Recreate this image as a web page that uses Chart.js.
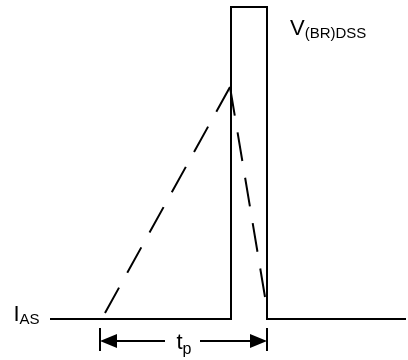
<!DOCTYPE html>
<html>
<head>
<meta charset="utf-8">
<script src="https://cdn.jsdelivr.net/npm/chart.js@4"></script>
<style>
  html, body { margin: 0; padding: 0; background: #fff; }
  #wrap { width: 408px; height: 360px; }
</style>
</head>
<body>
<div id="wrap"><canvas id="myChart"></canvas></div>
<script>
// waveform values (time units, level units; IAS level = 0)
const waveT = [50, 231, 231, 267, 267, 406];
const waveV = [0, 0, 312, 312, 0, 0];
// dashed current ramp: rise during tp, then fall
const rampT = [105, 230, 265];
const rampV = [6, 232, 22];
// tp span
const tpSpan = [100, 267];
// text
const iasLabel = ['I', 'AS'];
const vbrLabel = ['V', '(BR)DSS'];
const tpLabel = ['t', 'p'];

const toPts = (xs, ys) => xs.map((x, i) => ({ x: x, y: ys[i] }));

// labels and tp dimension arrow
const notes = {
    id: 'notes',
    afterDatasetsDraw(chart) {
        const c = chart.ctx;
        const xs = chart.scales.x, ys = chart.scales.y;
        const big = '22px "Liberation Sans", Arial, sans-serif';
        const small = '15px "Liberation Sans", Arial, sans-serif';
        c.save();
        c.fillStyle = '#000';
        c.strokeStyle = '#000';
        c.textBaseline = 'alphabetic';

        // IAS at the left of the baseline
        const yBase = ys.getPixelForValue(waveV[0]);
        c.font = big;
        c.fillText(iasLabel[0], 13.5, yBase + 2);
        c.font = small;
        c.fillText(iasLabel[1], 19.5, yBase + 5);

        // V(BR)DSS at the right of the pulse top
        const yTop = ys.getPixelForValue(waveV[2]);
        const xPulse = xs.getPixelForValue(waveT[3]);
        c.font = big;
        c.fillText(vbrLabel[0], xPulse + 23, yTop + 28);
        const vw = c.measureText(vbrLabel[0]).width;
        c.font = small;
        c.fillText(vbrLabel[1], xPulse + 23 + vw, yTop + 31);

        // tp dimension
        const x0 = xs.getPixelForValue(tpSpan[0]);
        const x1 = xs.getPixelForValue(tpSpan[1]);
        const ya = yBase + 22;
        c.lineWidth = 2;
        c.beginPath();
        c.moveTo(x0, ya - 13); c.lineTo(x0, ya + 10);
        c.moveTo(x1, ya - 13); c.lineTo(x1, ya + 10);
        c.moveTo(x0 + 10, ya); c.lineTo(x0 + 65, ya);
        c.moveTo(x1 - 67, ya); c.lineTo(x1 - 10, ya);
        c.stroke();
        c.beginPath();
        c.moveTo(x0, ya); c.lineTo(x0 + 17, ya - 7); c.lineTo(x0 + 17, ya + 7); c.closePath();
        c.moveTo(x1, ya); c.lineTo(x1 - 17, ya - 7); c.lineTo(x1 - 17, ya + 7); c.closePath();
        c.fill();

        const xm = (x0 + x1) / 2;
        c.font = big;
        c.fillText(tpLabel[0], xm - 7, ya + 8);
        const tw = c.measureText(tpLabel[0]).width;
        c.font = '16px "Liberation Sans", Arial, sans-serif';
        c.fillText(tpLabel[1], xm - 7 + tw, ya + 13);
        c.restore();
    }
};

const ctx = document.getElementById('myChart').getContext('2d');
const myChart = new Chart(ctx, {
    type: 'line',
    data: {
        datasets: [{
            label: 'V',
            data: toPts(waveT, waveV),
            borderColor: '#000',
            borderWidth: 2,
            clip: false
        },
        {
            label: 'I rise',
            data: toPts(rampT.slice(0, 2), rampV.slice(0, 2)),
            borderColor: '#000',
            borderWidth: 2,
            borderDash: [29, 17],
            clip: false
        },
        {
            label: 'I fall',
            data: toPts(rampT.slice(1), rampV.slice(1)),
            borderColor: '#000',
            borderWidth: 2,
            borderDash: [29, 17],
            clip: false
        }]
    },
    options: {
        responsive: true,
        maintainAspectRatio: false,
        animation: false,
        devicePixelRatio: 1,
        layout: { padding: 0 },
        elements: { point: { radius: 0 }, line: { tension: 0 } },
        plugins: { legend: { display: false }, tooltip: { enabled: false } },
        scales: {
            x: { type: 'linear', min: 0, max: 408, display: false },
            y: { type: 'linear', min: -41, max: 319, display: false }
        }
    },
    plugins: [notes]
});
</script>
</body>
</html>
